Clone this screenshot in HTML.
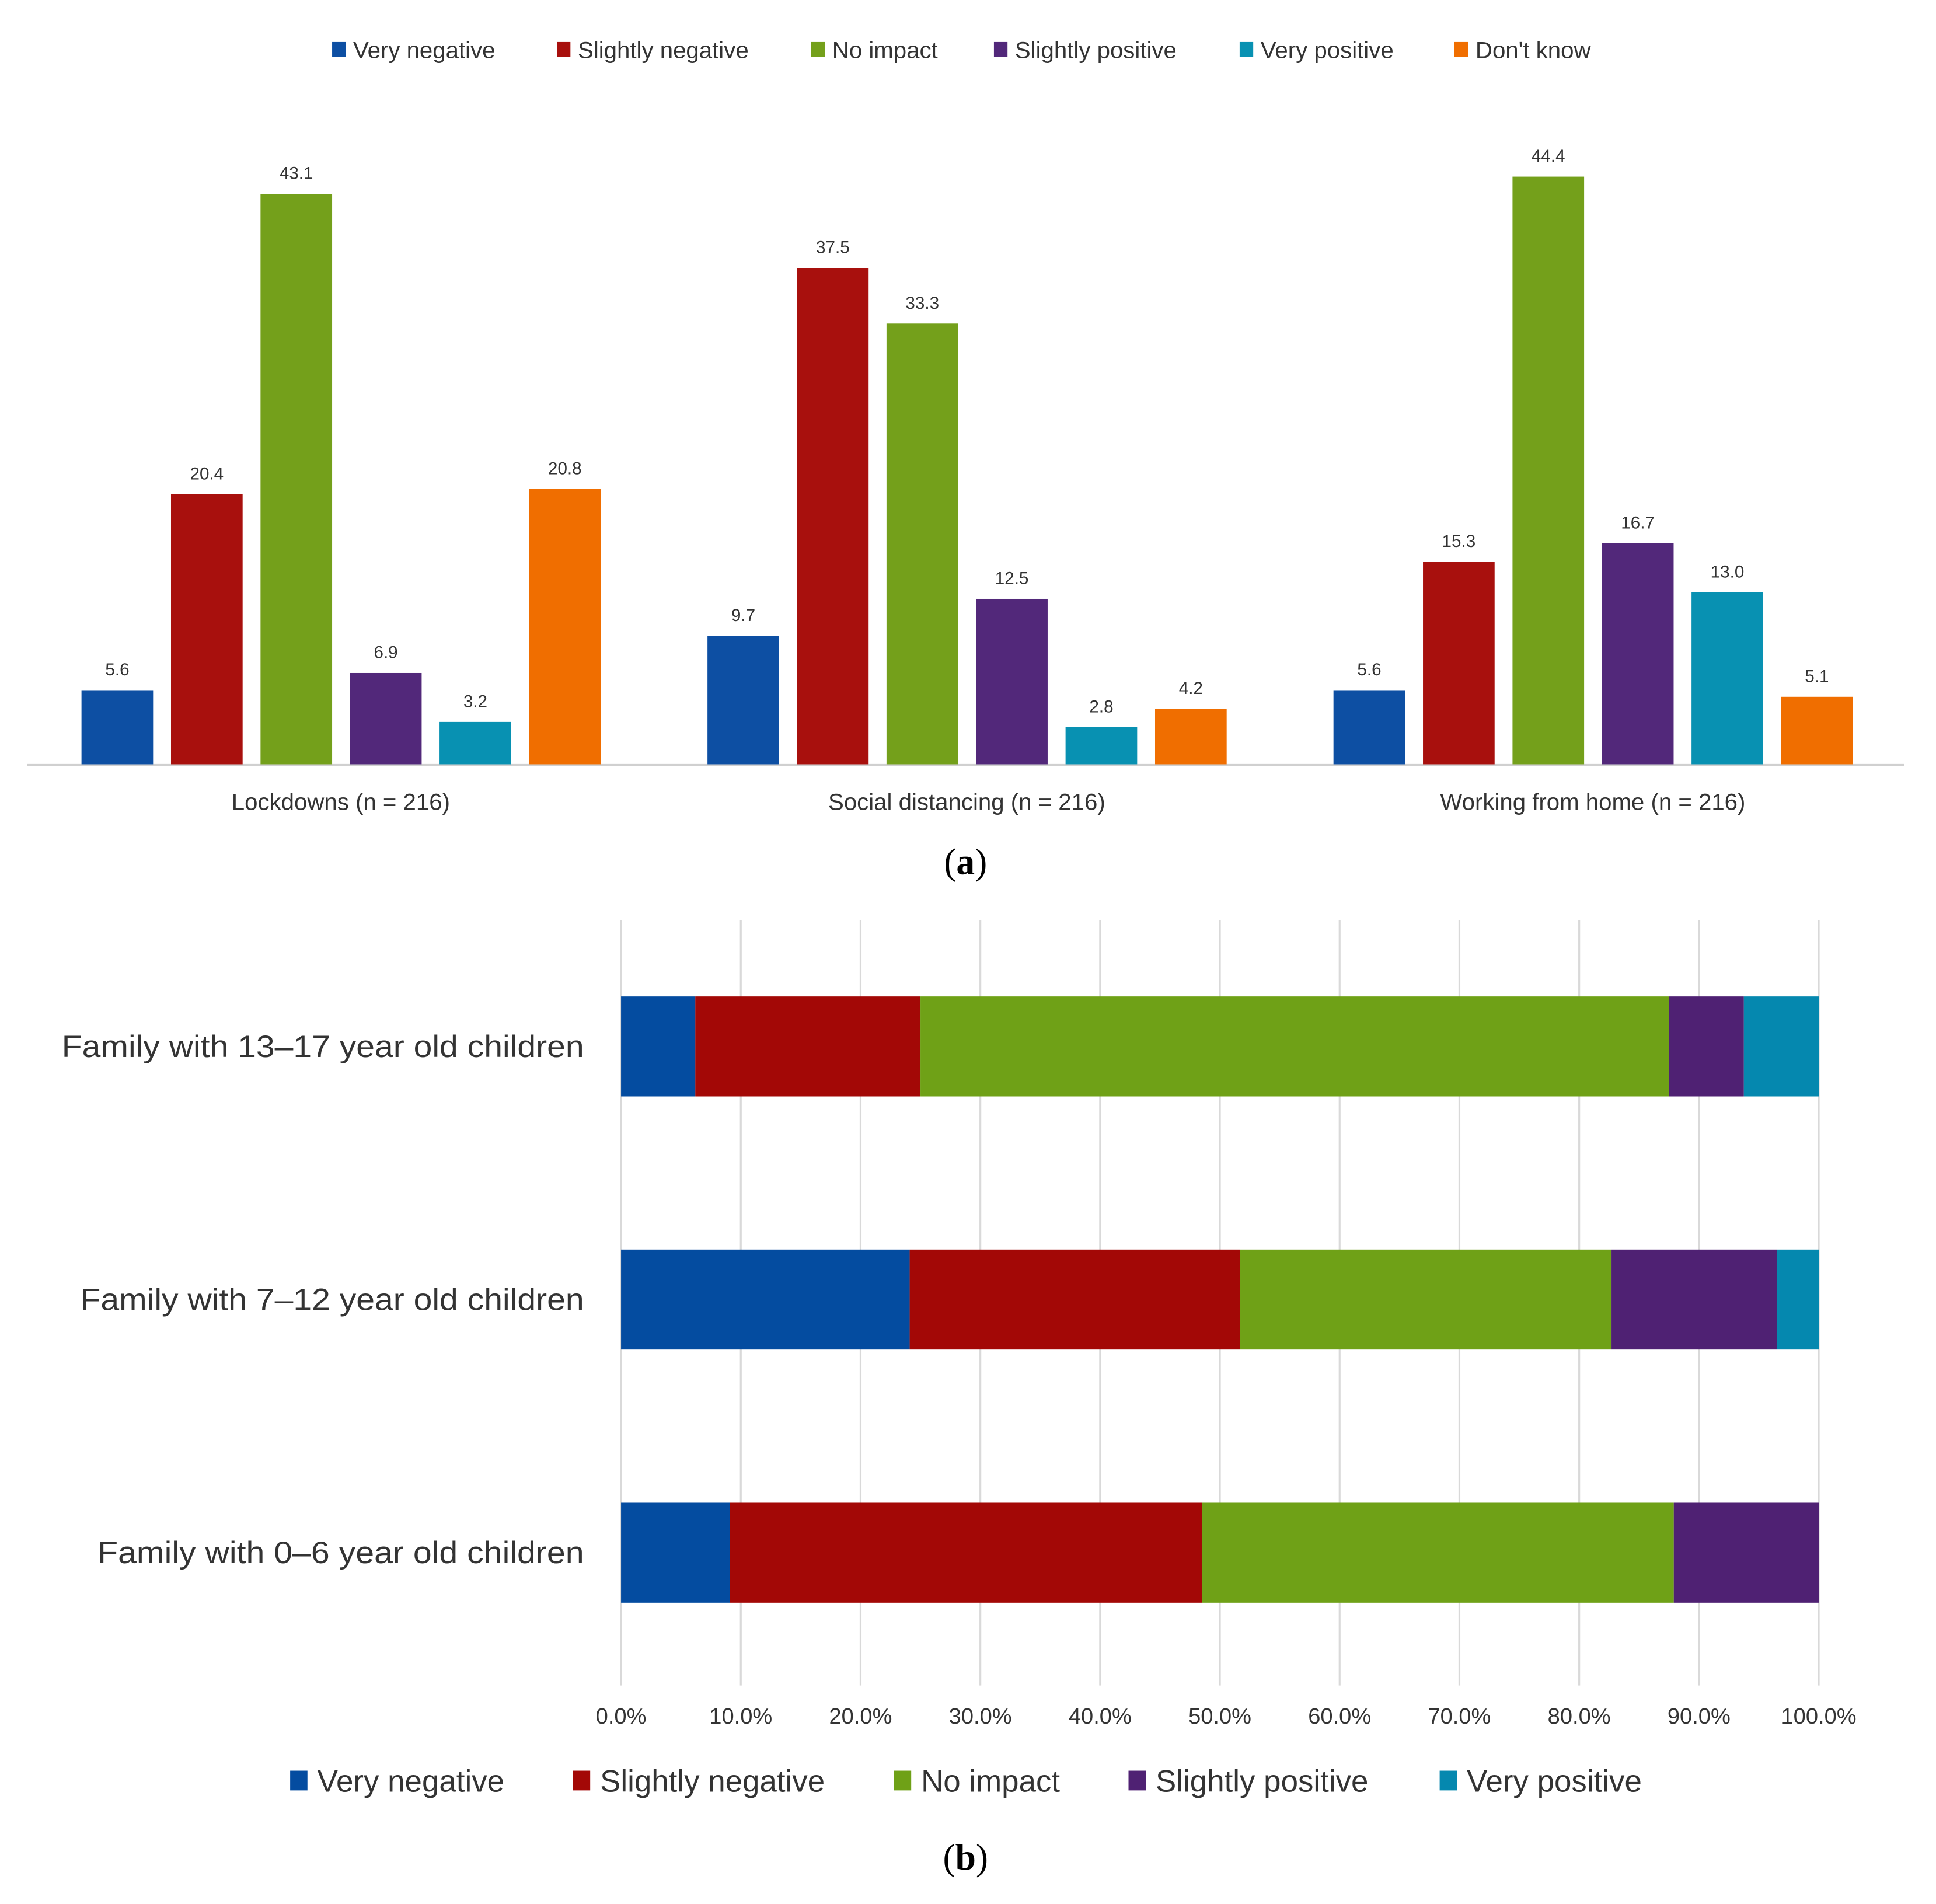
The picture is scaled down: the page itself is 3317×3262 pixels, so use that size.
<!DOCTYPE html>
<html><head><meta charset="utf-8"><style>
html,body{margin:0;padding:0;background:#fff}
svg{display:block}
text{font-family:"Liberation Sans",sans-serif;fill:#333}
</style></head><body>
<svg id="c" width="3317" height="3262" viewBox="0 0 1568 1542" preserveAspectRatio="none" xmlns="http://www.w3.org/2000/svg">
<g id="ga"></g>
<g id="gb"></g>
<text x="782" y="708" text-anchor="middle" style="font-family:'Liberation Serif',serif;font-size:30px;fill:#000">(<tspan font-weight="bold">a</tspan>)</text>
<text x="782" y="1514" text-anchor="middle" style="font-family:'Liberation Serif',serif;font-size:30px;fill:#000">(<tspan font-weight="bold">b</tspan>)</text>
</svg>
<script>
const NS="http://www.w3.org/2000/svg";
const seriesNames=["Very negative","Slightly negative","No impact","Slightly positive","Very positive","Don't know"];
const colorsA=["#0d4fa3","#a8100d","#74a01b","#52287a","#0891b2","#f06e00"];
const groups=["Lockdowns (n = 216)","Social distancing (n = 216)","Working from home (n = 216)"];
const veryNeg=[5.6,9.7,5.6];
const slightNeg=[20.4,37.5,15.3];
const noImpact=[43.1,33.3,44.4];
const slightPos=[6.9,12.5,16.7];
const veryPos=[3.2,2.8,13.0];
const dontKnow=[20.8,4.2,5.1];
const rows=["Family with 13–17 year old children","Family with 7–12 year old children","Family with 0–6 year old children"];
const bVeryNeg=[6.2,24.1,9.1];
const bSlightNeg=[18.8,27.6,39.4];
const bNoImpact=[62.5,31.0,39.4];
const bSlightPos=[6.25,13.8,12.1];
const bVeryPos=[6.25,3.5,0];
const xTicks=[0,10,20,30,40,50,60,70,80,90,100];
const colorsB=["#044ca0","#a30806","#6fa117","#4f2173","#0588af"];
const rowLabelW=[423,408,394];

function mk(tag,attrs,parent){const e=document.createElementNS(NS,tag);for(const k in attrs)e.setAttribute(k,attrs[k]);parent.appendChild(e);return e;}

// chart a
const ga=document.getElementById('ga');
const base=619, pxPer=10.72;
const yA=v=>base-v*pxPer;
const grpX=g=>66+g*507;
const barX=(g,s)=>grpX(g)+s*72.5;
const seriesA=[veryNeg,slightNeg,noImpact,slightPos,veryPos,dontKnow];
mk('line',{x1:22,x2:1542,y1:base+0.5,y2:base+0.5,stroke:'#d0d0d0','stroke-width':1.5},ga);
seriesA.forEach((arr,s)=>arr.forEach((v,g)=>{
  const r=mk('rect',{x:barX(g,s),y:yA(v),width:58,height:base-yA(v),fill:colorsA[s]},ga);
  
  
  const t=mk('text',{x:barX(g,s)+29,y:yA(v)-12,'text-anchor':'middle','font-size':14},ga);
  t.textContent=v.toFixed(1);
  
  
}));
groups.forEach((n,g)=>{
  const t=mk('text',{x:grpX(g)+210,y:656,'text-anchor':'middle','font-size':19},ga);
  t.textContent=n;
  
  
});
const legAx=[269,451,657,805,1004,1178];
seriesNames.forEach((n,i)=>{
  const r=mk('rect',{x:legAx[i],y:34,width:11,height:12,fill:colorsA[i]},ga);
  
  
  const t=mk('text',{x:legAx[i]+17,y:47,'font-size':19},ga);
  t.textContent=n;
  
  
});

// chart b
const gb=document.getElementById('gb');
const x0=503,x1=1473;
const xB=v=>x0+(x1-x0)*v/100;
xTicks.forEach(v=>{
  const l=mk('line',{x1:xB(v),x2:xB(v),y1:745,y2:1365,stroke:'#d9d9d9','stroke-width':1.5},gb);
  
  
  const t=mk('text',{x:xB(v),y:1396,'text-anchor':'middle','font-size':18},gb);
  t.textContent=v.toFixed(1)+'%';
  
  
});
const seriesB=[bVeryNeg,bSlightNeg,bNoImpact,bSlightPos,bVeryPos];
const rowY=[807,1012,1217];
rows.forEach((n,r)=>{
  let acc=0;
  seriesB.forEach((arr,s)=>{
    const v=arr[r];
    if(v>0){
      const e=mk('rect',{x:xB(acc),y:rowY[r],width:xB(acc+v)-xB(acc),height:81,fill:colorsB[s]},gb);
      
      
    }
    acc+=v;
  });
  const t=mk('text',{x:473,y:rowY[r]+49,'text-anchor':'end','font-size':25,textLength:rowLabelW[r],lengthAdjust:'spacingAndGlyphs'},gb);
  t.textContent=n;
  
  
});
const legBx=[235,464,724,914,1166];
seriesNames.slice(0,5).forEach((n,i)=>{
  const r=mk('rect',{x:legBx[i],y:1434,width:14,height:16,fill:colorsB[i]},gb);
  
  
  const t=mk('text',{x:legBx[i]+22,y:1451,'font-size':25},gb);
  t.textContent=n;
  
  
});
</script>
</body></html>
